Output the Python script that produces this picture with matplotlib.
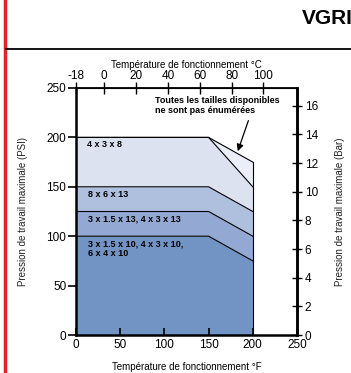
import matplotlib
matplotlib.use('Agg')
import matplotlib.pyplot as plt
from matplotlib.lines import Line2D

plt.rcParams['font.family'] = ['Liberation Sans', 'DejaVu Sans']

# données (°F / psi)
temp_f = [0, 150, 200]
toutes_tailles = [200, 200, 175]
p_4x3x8 = [200, 200, 150]
p_8x6x13 = [150, 150, 125]
p_13 = [125, 125, 100]
p_10 = [100, 100, 75]

labels = ["4 x 3 x 8", "8 x 6 x 13", "3 x 1.5 x 13, 4 x 3 x 13",
          "3 x 1.5 x 10, 4 x 3 x 10,\n6 x 4 x 10"]
couleurs = ['#ebeef8', '#dce2f0', '#afbfde', '#93a9d3', '#7294c5']

c_ticks = [-17.7, 0, 20, 40, 60, 80, 100]
c_labels = ['-18', '0', '20', '40', '60', '80', '100']
bar_ticks = [0, 2, 4, 6, 8, 10, 12, 14, 16]

fig = plt.figure(figsize=(3.51, 3.73), dpi=100)
ax = fig.add_axes([76/351, 1-335/373, 221/351, 247/373])

courbes = [toutes_tailles, p_4x3x8, p_8x6x13, p_13, p_10, [0, 0, 0]]
for i in range(5):
    ax.fill_between(temp_f, courbes[i+1], courbes[i], color=couleurs[i], lw=0)
for c in courbes[:5]:
    ax.plot(temp_f, c, color='black', lw=0.8)
ax.plot([200, 200], [0, 175], color='black', lw=0.8)

# textes des zones
ax.text(12, 197, labels[0], fontsize=6.5, fontweight='bold', va='top')
ax.text(14, 147, labels[1], fontsize=6.5, fontweight='bold', va='top')
ax.text(14, 122, labels[2], fontsize=6.5, fontweight='bold', va='top')
ax.text(14, 97, labels[3], fontsize=6.5, fontweight='bold', va='top', linespacing=1.15)

ax.annotate("Toutes les tailles disponibles\nne sont pas énumérées",
            xy=(183, 186), xytext=(89, 242), fontsize=6.5, fontweight='bold',
            va='top', ha='left', linespacing=1.15)
ax.annotate("", xy=(183, 186), xytext=(195, 217),
            arrowprops=dict(arrowstyle='-|>', color='black', lw=0.9,
                            mutation_scale=10, shrinkA=0, shrinkB=0))

ax.set_xlim(0, 250)
ax.set_ylim(0, 250)
ax.set_xticks(range(0, 251, 50))
ax.set_yticks(range(0, 251, 50))
ax.tick_params(axis='y', direction='out', length=6, width=1.2, labelsize=8.5, pad=1)
ax.tick_params(axis='x', direction='in', length=5, width=1.2, labelsize=8.5, pad=3)
ax.set_xlabel("Température de fonctionnement °F", fontsize=7, labelpad=8)
ax.set_ylabel("Pression de travail maximale (PSI)", fontsize=7, labelpad=13, color='#222222')
for s in ['left', 'bottom', 'right']:
    ax.spines[s].set_linewidth(1.8)
ax.spines['top'].set_linewidth(1.3)

sec_x = ax.secondary_xaxis('top', functions=(lambda f: (f - 32) / 1.8, lambda c: c * 1.8 + 32))
sec_x.set_xticks(c_ticks, c_labels)
sec_x.tick_params(direction='inout', length=8, width=1.0, labelsize=8.5, pad=0)
sec_x.set_xlabel("Température de fonctionnement °C", fontsize=7, labelpad=2)

sec_y = ax.secondary_yaxis('right', functions=(lambda p: p / 14.5038, lambda b: b * 14.5038))
sec_y.set_yticks(bar_ticks)
sec_y.tick_params(direction='inout', length=7, width=1.0, labelsize=8.5, pad=2)
sec_y.spines['right'].set_linewidth(1.8)
fig.text(340/351, 1-212/373, "Pression de travail maximale (Bar)", fontsize=7,
         rotation=90, ha='center', va='center', color='#222222')

# en-tête de la page
fig.add_artist(Line2D([5/351, 5/351], [0, 1], color='#e8202a', lw=2.5, transform=fig.transFigure))
fig.add_artist(Line2D([6/351, 1], [1-49/373, 1-49/373], color='black', lw=1.3, transform=fig.transFigure))
fig.text(302/351, 1-19/373, "VGRI", fontsize=15, fontweight='bold', va='center', ha='left')

fig.savefig('out.png', dpi=100)
